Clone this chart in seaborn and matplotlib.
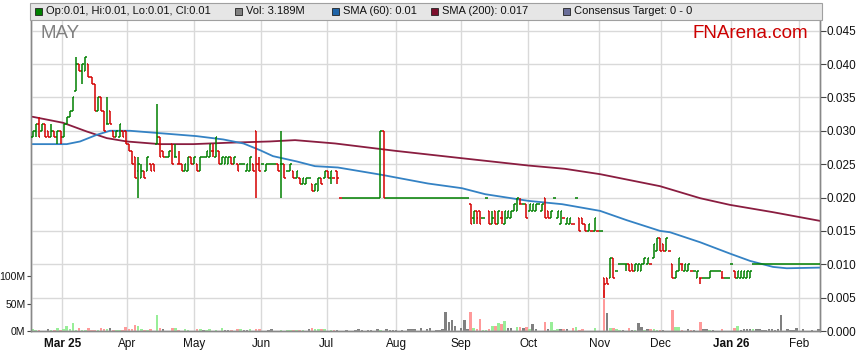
import numpy as np
import matplotlib
matplotlib.use("Agg")
import matplotlib.pyplot as plt
from matplotlib.patches import Rectangle
import seaborn as sns

# Daily prices in thousandths of a dollar
opens = ([29, 30, 31, 30, 31, 30, 29, 30, 29, 30,
          29, 31, 32, 33, 36, 40, 39, 39, 40, 38,
          37, 33, 35, 33, 31, 33, 30, 29, 29, 30,
          30, 28, 27, 26, 24, 23, 24, 24, 25, 25,
          28, 29, 27, 26, 26, 28, 26, 25, 25, 24,
          24, 26, 25, 25, 24, 26, 26, 26, 27, 26,
          27, 25, 25, 25, 26, 25, 25, 25, 25, 24,
          24, 25, 30, 25, 25, 24, 25, 25, 25, 25,
          25, 25, 24, 24, 24]
         + [23, 23, 22, 22, 23, 22, 21, 21, 23, 23, 24, 23, 23, 24]
         + [20] * 13 + [20, 30] + [20] * 27
         + [19, 17, 18, 18, 17, 20, 18, 16, 18, 16,
            17, 16, 17, 17, 18, 18, 19, 19, 19, 18,
            18, 18, 19, 18, 20, 18, 17, 20, 17, 16,
            17, 16, 16, 16, 20, 17, 17, 16, 15, 15,
            15, 15, 15]
         + [8, 8, 8, 11, 9, 10, 10, 10, 10, 10,
            9, 9, 9, 10, 10, 10, 11, 12, 14, 13,
            12, 12, 10, 8, 9, 10, 9, 9, 9, 9,
            8, 8, 8, 8, 8, 9, 9, 9, 8, 8,
            8, 10, 9, 8, 8, 8, 8, 8]
         + [10] * 22)

highs = ([30, 31, 32, 31, 31, 30, 31, 30, 30, 30,
          31, 32, 33, 35, 41, 40, 40, 41, 40, 38,
          37, 35, 35, 33, 35, 33, 30, 30, 31, 30,
          30, 28, 27, 26, 26, 25, 24, 26, 25, 25,
          34, 29, 27, 26, 27, 28, 28, 27, 25, 25,
          26, 26, 26, 25, 26, 26, 27, 28, 28, 29,
          27, 26, 26, 26, 26, 26, 25, 25, 25, 25,
          26, 25, 30, 26, 25, 25, 25, 25, 25, 25,
          30, 25, 24, 25, 24]
         + [24, 23, 23, 23, 23, 22, 22, 23, 23, 24, 24, 24, 23, 24]
         + [20] * 13 + [30, 30] + [20] * 27
         + [19, 18, 18, 18, 17, 20, 18, 18, 18, 18,
            18, 18, 18, 18, 19, 20, 20, 19, 19, 19,
            19, 19, 19, 19, 20, 18, 18, 20, 18, 18,
            17, 17, 17, 16, 20, 17, 17, 16, 16, 15,
            17, 15, 15]
         + [8, 8, 11, 11, 9, 10, 10, 10, 10, 10,
            10, 10, 10, 11, 11, 10, 13, 14, 14, 13,
            14, 12, 10, 9, 11, 10, 10, 10, 9, 9,
            9, 8, 8, 8, 9, 9, 9, 9, 9, 8,
            8, 10, 9, 9, 9, 9, 9, 9]
         + [10] * 22)

lows = ([29, 29, 29, 30, 29, 29, 29, 29, 28, 28,
         29, 31, 32, 33, 36, 39, 37, 39, 38, 37,
         33, 33, 33, 30, 31, 31, 29, 29, 29, 29,
         28, 27, 25, 23, 20, 23, 23, 24, 24, 24,
         28, 26, 26, 26, 26, 25, 26, 25, 24, 24,
         24, 25, 25, 24, 24, 26, 26, 26, 26, 26,
         25, 25, 25, 25, 25, 25, 24, 25, 25, 24,
         24, 24, 20, 24, 25, 24, 25, 25, 25, 24,
         20, 23, 24, 24, 23]
        + [23, 22, 22, 22, 23, 21, 21, 21, 22, 23, 23, 22, 23, 22]
        + [20] * 13 + [20, 20] + [20] * 27
        + [16, 16, 16, 16, 17, 20, 16, 16, 16, 16,
           16, 16, 17, 17, 18, 18, 19, 19, 17, 18,
           18, 18, 19, 18, 17, 17, 17, 20, 17, 16,
           17, 16, 16, 16, 20, 15, 16, 15, 15, 15,
           15, 15, 15]
        + [5, 7, 8, 8, 9, 10, 10, 9, 9, 9,
           9, 9, 9, 10, 10, 10, 11, 12, 12, 12,
           12, 12, 8, 8, 9, 9, 9, 9, 9, 9,
           8, 7, 8, 8, 8, 9, 9, 9, 8, 8,
           8, 10, 8, 8, 8, 8, 8, 8]
        + [10] * 22)

closes = ([30, 31, 29, 31, 29, 29, 30, 29, 30, 29,
           31, 32, 33, 35, 40, 39, 40, 41, 38, 37,
           33, 35, 33, 30, 31, 31, 29, 30, 31, 29,
           28, 27, 25, 23, 25, 24, 23, 26, 24, 24,
           29, 26, 26, 26, 27, 25, 26, 25, 24, 25,
           26, 25, 26, 24, 26, 26, 27, 28, 27, 29,
           25, 26, 26, 26, 25, 26, 24, 25, 25, 25,
           26, 24, 25, 24, 25, 25, 25, 25, 25, 24,
           25, 23, 24, 25, 23]
          + [24, 22, 23, 23, 23, 21, 22, 23, 22, 24, 23, 24, 23, 23]
          + [20] * 13 + [30, 20] + [20] * 27
          + [16, 18, 17, 16, 17, 20, 16, 17, 16, 18,
             17, 18, 18, 18, 19, 20, 19, 19, 17, 19,
             19, 19, 19, 19, 17, 17, 18, 20, 18, 18,
             17, 17, 17, 16, 20, 15, 16, 15, 16, 15,
             17, 15, 15]
          + [7, 7, 11, 8, 9, 10, 10, 10, 9, 9,
             10, 10, 10, 11, 11, 10, 13, 14, 12, 12,
             14, 12, 8, 9, 11, 10, 10, 10, 9, 9,
             9, 8, 8, 8, 9, 9, 9, 9, 8, 8,
             8, 10, 8, 9, 9, 9, 9, 9]
          + [10] * 22)

# Daily volume in millions
volumes = [4, 2, 2, 0, 0, 3, 1, 2, 5, 1,
           3, 10, 3, 14, 1, 6, 2, 2, 6, 2,
           1, 2, 5, 3, 4, 5, 2, 1, 2, 1,
           7, 3, 3, 11, 10, 3, 2, 2, 3, 0,
           30, 5, 3, 0, 0, 5, 5, 2, 0, 3,
           2, 0, 0, 3, 3, 2, 2, 3, 0, 2,
           0, 5, 2, 2, 2, 0, 3, 3, 2, 2,
           3, 0, 3, 3, 0, 0, 2, 3, 0, 0,
           2, 0, 2, 1, 1, 1, 1, 1, 0, 3,
           5, 3, 3, 3, 3, 0, 2, 2, 1, 0,
           0, 1, 0, 0, 1, 3, 1, 0, 2, 2,
           0, 3, 2, 0, 3, 2, 1, 2, 0, 2,
           0, 4, 3, 3, 0, 5, 0, 3, 5, 0,
           2, 2, 3, 35, 17, 20, 9, 0, 6, 20,
           3, 35, 6, 3, 21, 1, 1, 3, 9, 9,
           14, 12, 18, 6, 5, 0, 8, 8, 6, 8,
           3, 12, 3, 0, 0, 16, 3, 16, 2, 3,
           4, 3, 3, 0, 6, 8, 2, 3, 0, 0,
           0, 6, 0, 0, 75, 33, 6, 6, 3, 2,
           2, 0, 6, 2, 2, 14, 8, 2, 4, 4,
           3, 2, 2, 2, 0, 0, 38, 7, 8, 2,
           0, 3, 2, 2, 0, 16, 3, 3, 2, 2,
           0, 0, 3, 0, 0, 0, 5, 10, 2, 3,
           3, 3, 3, 3, 3, 2, 2, 4, 3, 2,
           3, 29, 0, 3, 2, 2, 6, 0, 4, 0,
           0, 2, 0, 3]

# Moving averages, sampled along the curves (day index, thousandths)
sma60_days = [0, 11, 15.3, 20.7, 24.9, 31.4, 42.1, 52.8, 61.4, 67.9, 73.2, 77.4,
              85.1, 90.9, 98.3, 112.4, 127.3, 138.2, 145.7, 159.6, 170.5, 182.7,
              191.3, 202, 205.2, 214.9, 224.5, 231, 238.4, 242.8, 253.5]
sma60_vals = [28.0, 28.0, 28.4, 29.4, 30.0, 30.0, 29.6, 29.2, 28.7, 28.1, 27.1, 26.2,
              25.4, 24.7, 24.5, 23.4, 22.1, 21.4, 20.5, 19.5, 19.0, 18.0,
              16.6, 15.0, 14.8, 13.3, 11.6, 10.5, 9.6, 9.4, 9.5]
sma200_days = [0, 9.8, 17.4, 23.9, 30.3, 41, 51.7, 62.5, 76.4, 84.5, 97.4, 116.7,
               138, 159.5, 171.4, 182.7, 202, 214.9, 224.5, 238.4, 253.5]
sma200_vals = [32.1, 31.2, 29.9, 28.9, 28.4, 28.0, 28.0, 28.2, 28.4, 28.6, 28.1, 27.0,
               25.9, 24.8, 24.3, 23.5, 21.7, 19.9, 18.9, 17.8, 16.5]

month_labels = ["Mar 25", "Apr", "May", "Jun", "Jul", "Aug", "Sep", "Oct",
                "Nov", "Dec", "Jan 26", "Feb"]
month_days = [9.6, 30.5, 52.1, 73.6, 94.7, 117.1, 138, 159.6, 182.5, 202.2, 225, 246.7]

legend_items = [("Op:0.01, Hi:0.01, Lo:0.01, Cl:0.01", "#008000"),
                ("Vol: 3.189M", "#808080"),
                ("SMA (60): 0.01", "#1f64a8"),
                ("SMA (200): 0.017", "#7c0f2c"),
                ("Consensus Target: 0 - 0", "#6a6e99")]

sns.set_style("white")
plt.rcParams["font.family"] = ["Liberation Sans", "DejaVu Sans"]

W, H = 859, 363
fig = plt.figure(figsize=(W / 100, H / 100), dpi=100)
ax_v = fig.add_axes([31 / W, 1 - 331 / H, 789 / W, 311 / H])
ax = ax_v.twinx()

days = np.arange(len(closes))
op = np.array(opens) / 1000
hi = np.array(highs) / 1000
lo = np.array(lows) / 1000
cl = np.array(closes) / 1000
prev = np.concatenate([[op[0]], cl[:-1]])

bar_cols = []
vol_cols = []
for o, c, p in zip(op, cl, prev):
    down = c < o or (c == o and c < p)
    bar_cols.append("#d40000" if down else "#008000")
    if c == p:
        vol_cols.append("#808080")
    elif down:
        vol_cols.append("#ff9a9a")
    else:
        vol_cols.append("#98ee98")

# volume
ax_v.bar(days, volumes, width=0.8, color=vol_cols, lw=0, zorder=2)
ax_v.set_ylim(0, 567)
ax_v.set_yticks([0, 50, 100])
ax_v.set_yticklabels(["0M", "50M", "100M"])
ax_v.set_xlim(-0.5, len(days) - 0.5)
ax_v.set_xticks(month_days)
ax_v.set_xticklabels(month_labels)
for lab in ax_v.get_xticklabels():
    if " " in lab.get_text():
        lab.set_fontweight("bold")
ax_v.grid(axis="x", color="#d9d9d9", lw=1)
ax_v.tick_params(axis="x", length=3, color="#cccccc", labelsize=8.5, pad=2, labelcolor="#111111")
ax_v.tick_params(axis="y", direction="out", length=3, color="#444444", labelsize=7.5,
                 pad=1, labelcolor="#111111")

# SMA lines
sns.lineplot(x=sma200_days, y=np.array(sma200_vals) / 1000, ax=ax, color="#8a1d40", lw=1.3, zorder=2)
sns.lineplot(x=sma60_days, y=np.array(sma60_vals) / 1000, ax=ax, color="#3482c4", lw=1.3, zorder=2)

# OHLC bars
ax.vlines(days, lo, hi, colors=bar_cols, lw=1.1, zorder=3)
ax.hlines(op, days - 0.5, days, colors=bar_cols, lw=1.1, zorder=3)
ax.hlines(cl, days, days + 0.5, colors=bar_cols, lw=1.1, zorder=3)

ax.set_ylim(0, 0.0466)
ax.set_xlim(-0.5, len(days) - 0.5)
ax.set_yticks(np.arange(0, 0.0451, 0.005))
ax.set_yticklabels([f"{v:.3f}" for v in np.arange(0, 0.0451, 0.005)])
ax.grid(axis="y", color="#d9d9d9", lw=1)
ax.set_axisbelow(True)
ax.tick_params(axis="y", direction="out", length=4, color="#444444", labelsize=8.5,
               pad=1, labelcolor="#111111")
ax.set_xlabel("")
ax.set_ylabel("")

for a in (ax, ax_v):
    a.spines["top"].set_visible(False)
    for s in ("left", "right", "bottom"):
        a.spines[s].set_color("#888888")
        a.spines[s].set_linewidth(1)

# header strip with legend
fig.patches.append(Rectangle((30 / W, 1 - 20 / H), 792 / W, 17 / H, transform=fig.transFigure,
                             facecolor="#e6e6e6", edgecolor="#a0a0a0", lw=0.8))
square_x = [35, 235, 332, 431, 563]
for (label, colr), sx in zip(legend_items, square_x):
    fig.patches.append(Rectangle((sx / W, 1 - 15 / H), 7 / W, 7 / H, transform=fig.transFigure,
                                 facecolor=colr, edgecolor="#222222", lw=0.6))
    fig.text((sx + 11) / W, 1 - 11.5 / H, label, fontsize=8, va="center", ha="left", color="#111111")

fig.text(41 / W, 1 - 33 / H, "MAY", fontsize=13.5, color="#808080", va="center", ha="left")
fig.text(693 / W, 1 - 33 / H, "FNArena.com", fontsize=13.5, color="#cc0000", va="center", ha="left")

fig.savefig("out.png", dpi=100)
